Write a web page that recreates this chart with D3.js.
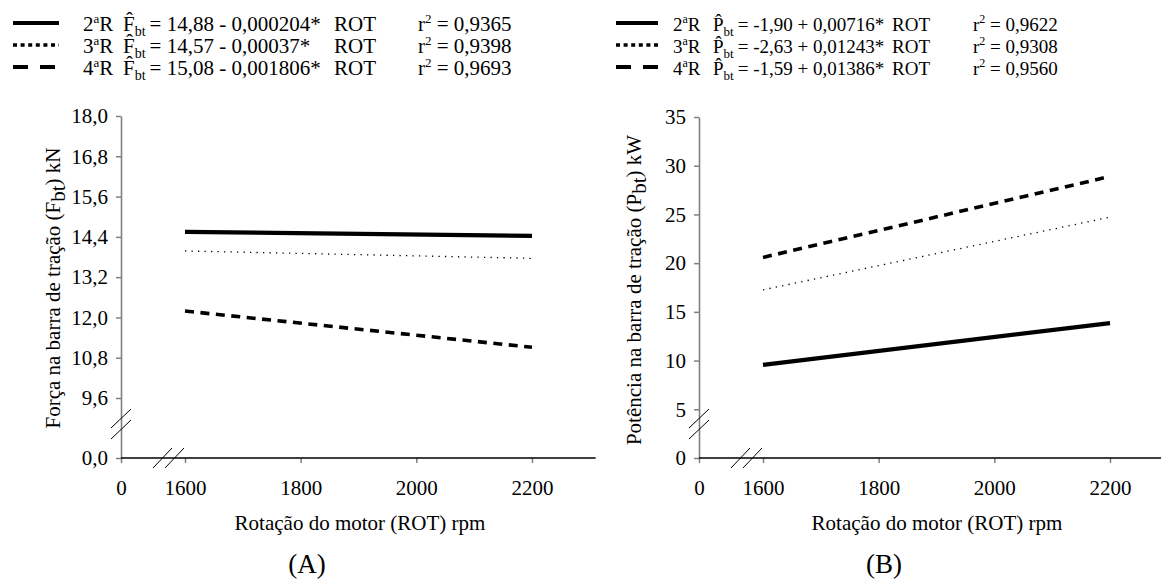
<!DOCTYPE html>
<html>
<head>
<meta charset="utf-8">
<script src="https://cdn.jsdelivr.net/npm/d3@7"></script>
<style>
	body { margin: 0; background: #fff; }
	svg text { font-family: "Liberation Serif", "DejaVu Serif", "Times New Roman", serif; fill: #000; }
	.tick text { font-size: 21px; }
	.yAxis .tick line, .xAxis .tick line { stroke: #808080; stroke-width: 1.5; }
</style>
</head>
<body>
<div id="container"></div>
<script>
// data
var rpm = [1600, 2200];

var forca2R = [14.55, 14.43];
var forca3R = [13.98, 13.76];
var forca4R = [12.19, 11.11];

var pot2R = [9.55, 13.85];
var pot3R = [17.26, 24.72];
var pot4R = [20.59, 28.90];

var rpmTicks = [0, 1600, 1800, 2000, 2200];
var forcaTicks = [0, 9.6, 10.8, 12.0, 13.2, 14.4, 15.6, 16.8, 18.0];
var potTicks = [0, 5, 10, 15, 20, 25, 30, 35];

var seriesNames = ["2", "3", "4"];
var forcaEq = ["= 14,88 - 0,000204*", "= 14,57 - 0,00037*", "= 15,08 - 0,001806*"];
var forcaR2 = ["0,9365", "0,9398", "0,9693"];
var potEq = ["= -1,90 + 0,00716*", "= -2,63 + 0,01243*", "= -1,59 + 0,01386*"];
var potR2 = ["0,9622", "0,9308", "0,9560"];

var styles = [
	{ width: 4.2, dash: null, legWidth: 4.2, legDash: null },
	{ width: 1.3, dash: "1.3,5.2", legWidth: 3.5, legDash: "4,3.6" },
	{ width: 3.6, dash: "9,6.5", legWidth: 4, legDash: "15,12" }
];

var FONT = "'Liberation Serif', 'DejaVu Serif', 'Times New Roman', serif";

var svg = d3.select("#container")
	.append("svg")
	.attr("width", 1161)
	.attr("height", 579)
	.attr("font-family", FONT);

function comma(d, digits) {
	return d.toFixed(digits).replace(".", ",");
}

function panel(cfg) {
	var g = svg.append("g");

	var x = d3.scaleLinear()
		.domain([0, 1600, 2200])
		.range([cfg.ox, cfg.ox + 64, cfg.ox + 411]);

	var y = d3.scaleLinear()
		.domain(cfg.yDomain)
		.range(cfg.yRange);

	var oy = y(0), ox = x(0);

	// y axis
	var yAxis = g.append("g")
		.attr("class", "yAxis")
		.attr("transform", "translate(" + ox + ",0)")
		.call(d3.axisLeft(y)
			.tickValues(cfg.yTicks)
			.tickSize(5)
			.tickSizeOuter(0)
			.tickPadding(8)
			.tickFormat(cfg.yFormat))
		.attr("font-family", FONT)
		.attr("font-size", 21);
	yAxis.select(".domain").attr("stroke", "#808080").attr("stroke-width", 1.6);

	// x axis
	var xAxis = g.append("g")
		.attr("class", "xAxis")
		.attr("transform", "translate(0," + oy + ")")
		.call(d3.axisBottom(x)
			.tickValues(rpmTicks)
			.tickSize(5)
			.tickSizeOuter(0)
			.tickPadding(17)
			.tickFormat(d3.format("d")))
		.attr("font-family", FONT)
		.attr("font-size", 21);
	xAxis.select(".domain").remove();
	g.append("line")
		.attr("x1", ox).attr("x2", x(cfg.xEnd))
		.attr("y1", oy).attr("y2", oy)
		.attr("stroke", "#000").attr("stroke-width", 1.5);

	// break marks
	var brk = g.append("g").attr("stroke", "#000").attr("stroke-width", 1);
	[32, 44].forEach(function (dx) {
		brk.append("line")
			.attr("x1", ox + dx).attr("y1", oy + 10)
			.attr("x2", ox + dx + 19).attr("y2", oy - 10);
	});
	[-30, -19].forEach(function (dy) {
		brk.append("line")
			.attr("x1", ox - 10).attr("y1", oy + dy)
			.attr("x2", ox + 10).attr("y2", oy + dy - 19);
	});

	// regression lines
	var line = d3.line()
		.x(function (d, i) { return x(rpm[i]); })
		.y(function (d) { return y(d); });

	cfg.series.forEach(function (s, i) {
		g.append("path")
			.datum(s)
			.attr("d", line)
			.attr("fill", "none")
			.attr("stroke", "#000")
			.attr("stroke-width", styles[i].width)
			.attr("stroke-dasharray", styles[i].dash);
	});

	// axis titles
	var yt = g.append("text")
		.attr("transform", "translate(" + cfg.yTitleX + "," + cfg.yTitleY + ") rotate(-90)")
		.attr("text-anchor", "middle")
		.attr("font-size", 21);
	yt.append("tspan").text(cfg.yTitle[0]);
	yt.append("tspan").attr("dy", 5).text("bt");
	yt.append("tspan").attr("dy", -5).text(cfg.yTitle[1]);

	g.append("text")
		.attr("x", cfg.xTitleX).attr("y", 530)
		.attr("text-anchor", "middle")
		.attr("font-size", 21)
		.text("Rotação do motor (ROT) rpm");

	g.append("text")
		.attr("x", cfg.xTitleX - 53).attr("y", 573)
		.attr("text-anchor", "middle")
		.attr("font-size", 27)
		.text(cfg.letter);

	// legend
	var lx = cfg.legX, fs = cfg.legFont, small = Math.round(fs * 0.63);
	seriesNames.forEach(function (n, i) {
		var cy = 23 + i * 22, by = cy + 8;
		var st = styles[i];
		g.append("line")
			.attr("x1", lx).attr("x2", lx + cfg.legLen)
			.attr("y1", cy).attr("y2", cy)
			.attr("stroke", "#000")
			.attr("stroke-width", st.legWidth)
			.attr("stroke-dasharray", st.legDash);

		var t = g.append("text").attr("x", lx + cfg.labDx).attr("y", by).attr("font-size", fs);
		t.append("tspan").text(n);
		t.append("tspan").attr("dy", -8).attr("font-size", small).text("a");
		t.append("tspan").attr("dy", 8).text("R");

		var f = g.append("text").attr("x", lx + cfg.symDx).attr("y", by).attr("font-size", fs);
		f.append("tspan").text(cfg.symbol + "\u0302");
		f.append("tspan").attr("dy", 5).attr("font-size", small + 1).text("bt");
		f.append("tspan").attr("dy", -5).attr("dx", 4).text(cfg.eq[i]);

		g.append("text").attr("x", lx + cfg.rotDx).attr("y", by).attr("font-size", fs).text("ROT");

		var r = g.append("text").attr("x", lx + cfg.r2Dx).attr("y", by).attr("font-size", fs);
		r.append("tspan").text("r");
		r.append("tspan").attr("dy", -8).attr("font-size", small).text("2");
		r.append("tspan").attr("dy", 8).text(" = " + cfg.r2[i]);
	});
}

panel({
	ox: 121,
	yDomain: [0, 9.6, 18],
	yRange: [458, 398, 116],
	yTicks: forcaTicks,
	yFormat: function (d) { return comma(d, 1); },
	xEnd: 2310,
	series: [forca2R, forca3R, forca4R],
	yTitle: ["Força na barra de tração (F", ") kN"],
	yTitleX: 60, yTitleY: 288,
	xTitleX: 360,
	letter: "(A)",
	legX: 13, legLen: 46, legFont: 21,
	labDx: 70, symDx: 110,
	symbol: "F",
	eq: forcaEq,
	r2: forcaR2,
	rotDx: 321,
	r2Dx: 405
});

panel({
	ox: 699,
	yDomain: [0, 35],
	yRange: [458, 117],
	yTicks: potTicks,
	yFormat: function (d) { return d; },
	xEnd: 2300,
	series: [pot2R, pot3R, pot4R],
	yTitle: ["Potência na barra de tração (P", ") kW"],
	yTitleX: 641, yTitleY: 290,
	xTitleX: 937,
	letter: "(B)",
	legX: 616, legLen: 42, legFont: 19,
	labDx: 57, symDx: 97,
	symbol: "P",
	eq: potEq,
	r2: potR2,
	rotDx: 276,
	r2Dx: 357
});
</script>
</body>
</html>
